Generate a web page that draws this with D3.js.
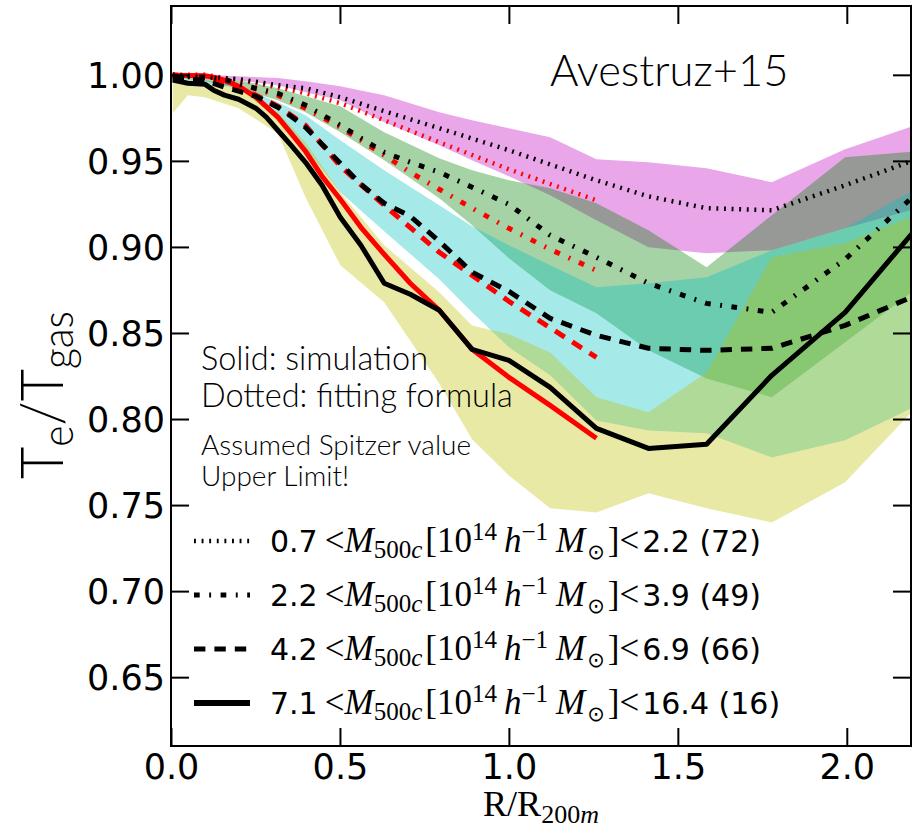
<!DOCTYPE html>
<html><head><meta charset="utf-8">
<script src="https://cdn.jsdelivr.net/npm/d3@7"></script>
<style>body{margin:0;background:#fff}</style>
</head><body>
<svg id="c" width="917" height="832"></svg>
<script>
// ---------------- data ----------------
const bandR = [0.005, 0.05, 0.1, 0.2, 0.316, 0.398, 0.501, 0.631, 0.794, 0.891, 1.0, 1.122, 1.259, 1.413, 1.585, 1.778, 1.995, 2.239];
const band72Hi = [1.000, 1.000, 1.000, 0.9992, 0.9981, 0.9963, 0.9934, 0.9882, 0.9783, 0.9736, 0.9690, 0.9638, 0.9510, 0.9492, 0.9457, 0.9376, 0.9568, 0.9731];
const band72Lo = [0.9992, 0.9992, 0.9986, 0.9969, 0.9940, 0.9899, 0.9853, 0.9725, 0.9591, 0.9504, 0.9411, 0.9300, 0.9155, 0.8998, 0.8963, 0.8981, 0.9108, 0.9242];
const band49Hi = [0.9992, 0.9992, 0.9986, 0.9969, 0.9922, 0.9876, 0.9818, 0.9667, 0.9516, 0.9446, 0.9387, 0.9341, 0.9254, 0.9097, 0.8882, 0.9184, 0.9521, 0.9562];
const band49Lo = [0.9981, 0.9975, 0.9963, 0.9922, 0.9853, 0.9783, 0.9667, 0.9504, 0.9283, 0.9126, 0.8934, 0.8748, 0.8614, 0.8399, 0.8236, 0.8126, 0.8446, 0.8806];
const band66Hi = [0.9981, 0.9975, 0.9969, 0.9934, 0.9841, 0.9765, 0.9620, 0.9446, 0.9242, 0.9120, 0.9010, 0.8893, 0.8765, 0.8789, 0.8824, 0.8981, 0.9108, 0.9376];
const band66Lo = [0.9969, 0.9963, 0.9951, 0.9922, 0.9748, 0.9574, 0.9318, 0.9091, 0.8812, 0.8620, 0.8417, 0.8254, 0.7992, 0.7934, 0.7917, 0.7777, 0.7876, 0.8108];
const band16Hi = [0.9981, 0.9969, 0.9957, 0.9922, 0.9783, 0.9608, 0.9318, 0.9010, 0.8736, 0.8544, 0.8492, 0.8387, 0.8126, 0.8039, 0.8271, 0.8940, 0.9021, 0.9213];
const band16Lo = [0.9777, 0.9882, 0.9870, 0.9806, 0.9661, 0.9289, 0.8893, 0.8678, 0.8207, 0.7882, 0.7672, 0.7481, 0.7457, 0.7568, 0.7481, 0.7399, 0.7632, 0.8138];

const simR72 = [0.005, 0.1, 0.2, 0.316, 0.398, 0.501, 0.631, 0.794, 1.0, 1.259, 1.413, 1.585, 1.778, 1.995, 2.239];
const sim72  = [1.000, 0.9986, 0.9975, 0.9940, 0.9922, 0.9870, 0.9789, 0.9690, 0.9562, 0.9387, 0.9294, 0.9225, 0.9213, 0.9358, 0.9533];
const fitR72 = [0.005, 0.1, 0.2, 0.316, 0.398, 0.501, 0.631, 0.794, 1.0, 1.259];
const fit72  = [1.000, 1.000, 0.9969, 0.9928, 0.9893, 0.9835, 0.9736, 0.9608, 0.9451, 0.9271];

const simR49 = [0.005, 0.1, 0.158, 0.2, 0.251, 0.316, 0.398, 0.501, 0.562, 0.631, 0.708, 0.794, 0.891, 1.0, 1.122, 1.259, 1.413, 1.585, 1.778, 1.995, 2.239];
const sim49  = [0.9992, 0.9986, 0.9975, 0.9946, 0.9922, 0.9893, 0.9824, 0.9707, 0.9632, 0.9550, 0.9492, 0.9434, 0.9347, 0.9248, 0.9068, 0.8940, 0.8789, 0.8672, 0.8620, 0.8928, 0.9370];
const fitR49 = [0.005, 0.1, 0.2, 0.316, 0.398, 0.501, 0.631, 0.708, 0.794, 0.891, 1.0, 1.122, 1.259];
const fit49  = [1.000, 0.9986, 0.9946, 0.9882, 0.9806, 0.9696, 0.9533, 0.9434, 0.9335, 0.9225, 0.9108, 0.8986, 0.8864];

const simR66 = [0.005, 0.1, 0.126, 0.158, 0.2, 0.251, 0.316, 0.355, 0.398, 0.447, 0.501, 0.562, 0.631, 0.708, 0.794, 0.891, 1.0, 1.122, 1.259, 1.413, 1.585, 1.778, 1.995, 2.239];
const sim66  = [0.9981, 0.9969, 0.9951, 0.9928, 0.9905, 0.9876, 0.9812, 0.9760, 0.9696, 0.9597, 0.9486, 0.9364, 0.9254, 0.9178, 0.9033, 0.8853, 0.8742, 0.8585, 0.8486, 0.8411, 0.8399, 0.8411, 0.8544, 0.8748];
const fitR66 = [0.005, 0.1, 0.158, 0.2, 0.251, 0.316, 0.398, 0.501, 0.631, 0.794, 1.0, 1.259];
const fit66  = [0.9992, 0.9981, 0.9951, 0.9922, 0.9882, 0.9818, 0.9707, 0.9469, 0.9242, 0.8969, 0.8684, 0.8358];

const simR16 = [0.005, 0.05, 0.1, 0.126, 0.158, 0.2, 0.251, 0.282, 0.316, 0.355, 0.398, 0.447, 0.501, 0.562, 0.631, 0.708, 0.794, 0.891, 1.0, 1.122, 1.259, 1.413, 1.585, 1.778, 1.995, 2.239];
const sim16  = [0.9969, 0.9951, 0.9946, 0.9911, 0.9882, 0.9858, 0.9806, 0.9754, 0.9678, 0.9591, 0.9492, 0.9358, 0.9172, 0.9010, 0.8789, 0.8725, 0.8632, 0.8405, 0.8341, 0.8184, 0.7946, 0.7829, 0.7853, 0.8254, 0.8620, 0.9184];
const fitR16 = [0.005, 0.1, 0.126, 0.158, 0.2, 0.251, 0.316, 0.355, 0.398, 0.447, 0.501, 0.562, 0.631, 0.708, 0.794, 0.891, 1.0, 1.122, 1.259];
const fit16  = [0.9998, 0.9995, 0.9986, 0.9969, 0.9934, 0.9870, 0.9754, 0.9661, 0.9556, 0.9411, 0.9277, 0.9114, 0.8957, 0.8789, 0.8632, 0.8405, 0.8242, 0.8079, 0.7888];

const legendLo = ["0.7", "2.2", "4.2", "7.1"];
const legendHi = ["2.2", "3.9", "6.9", "16.4"];
const legendN  = ["72", "49", "66", "16"];
const xTicks = [0.0, 0.5, 1.0, 1.5, 2.0];
const yTicks = [0.65, 0.70, 0.75, 0.80, 0.85, 0.90, 0.95, 1.00];

// ---------------- layout ----------------
const L = 171, R = 911, T = 6, B = 746;
const svg = d3.select('#c');
const x = d3.scaleLinear().domain([0, 2.19]).range([L, R]);
const y = d3.scaleLinear().domain([0.61, 1.04]).range([B, T]);

svg.append('defs').append('clipPath').attr('id', 'clip')
  .append('rect').attr('x', L).attr('y', T).attr('width', R - L).attr('height', B - T);
const plot = svg.append('g').attr('clip-path', 'url(#clip)');

const bands = [
  {hi: band72Hi, lo: band72Lo, color: 'rgb(191,0,191)'},
  {hi: band49Hi, lo: band49Lo, color: 'rgb(0,128,0)'},
  {hi: band66Hi, lo: band66Lo, color: 'rgb(0,191,191)'},
  {hi: band16Hi, lo: band16Lo, color: 'rgb(191,191,0)'}
];
const area = d3.area().x(d => x(d[0])).y0(d => y(d[1])).y1(d => y(d[2]));
bands.forEach(b => {
  plot.append('path')
    .attr('d', area(bandR.map((r, i) => [r, b.lo[i], b.hi[i]])))
    .attr('fill', b.color).attr('fill-opacity', 0.35).attr('stroke', 'none');
});

const styles = {
  dot:  {w: 4.5, dash: '1.9,5.7'},
  dd:   {w: 5,   dash: '5.7,9.5,1.9,9.5'},
  dash: {w: 5,   dash: '11.4,9'},
  solid:{w: 5,   dash: null}
};
const line = d3.line().x(d => x(d[0])).y(d => y(d[1]));
function drawLine(rs, vs, color, st) {
  const p = plot.append('path').attr('d', line(rs.map((r, i) => [r, vs[i]])))
    .attr('fill', 'none').attr('stroke', color).attr('stroke-width', st.w)
    .attr('stroke-linejoin', 'round');
  if (st.dash) p.attr('stroke-dasharray', st.dash);
}
// fits (red) then simulations (black)
drawLine(fitR72, fit72, '#ff0000', styles.dot);
drawLine(fitR49, fit49, '#ff0000', styles.dd);
drawLine(fitR66, fit66, '#ff0000', styles.dash);
drawLine(fitR16, fit16, '#ff0000', styles.solid);
drawLine(simR72, sim72, '#000', styles.dot);
drawLine(simR49, sim49, '#000', styles.dd);
drawLine(simR66, sim66, '#000', styles.dash);
drawLine(simR16, sim16, '#000', styles.solid);

// ---------------- axes ----------------
const tickFont = 'DejaVu Sans';
const gx = svg.append('g').attr('transform', `translate(0,${B})`)
  .call(d3.axisBottom(x).tickValues(xTicks).tickFormat(d3.format('.1f')).tickSizeInner(-18).tickSizeOuter(0).tickPadding(8));
const gy = svg.append('g').attr('transform', `translate(${L},0)`)
  .call(d3.axisLeft(y).tickValues(yTicks).tickFormat(d3.format('.2f')).tickSizeInner(-18).tickSizeOuter(0).tickPadding(6));
const gt = svg.append('g').attr('transform', `translate(0,${T})`)
  .call(d3.axisTop(x).tickValues(xTicks).tickFormat('').tickSizeInner(-18).tickSizeOuter(0));
const gr = svg.append('g').attr('transform', `translate(${R},0)`)
  .call(d3.axisRight(y).tickValues(yTicks).tickFormat('').tickSizeInner(-18).tickSizeOuter(0));
[gx, gy, gt, gr].forEach(g => {
  g.select('.domain').remove();
  g.selectAll('.tick line').attr('stroke', '#000').attr('stroke-width', 2);
  g.selectAll('.tick text').attr('font-family', tickFont).attr('font-size', 35).attr('fill', '#000');
});
gy.selectAll('.tick text').attr('dy', '0.36em');
svg.append('rect').attr('x', L).attr('y', T).attr('width', R - L).attr('height', B - T)
  .attr('fill', 'none').attr('stroke', '#000').attr('stroke-width', 2);

// axis labels
const serif = 'Liberation Serif';
const xl = svg.append('text').attr('x', 541).attr('y', 816).attr('text-anchor', 'middle')
  .attr('font-family', serif).attr('font-size', 36);
xl.append('tspan').text('R/R');
xl.append('tspan').attr('font-size', 26).attr('dy', 7).text('200');
xl.append('tspan').attr('font-size', 26).attr('font-style', 'italic').text('m');

const yl = svg.append('text').attr('transform', 'translate(63,395) rotate(-90)')
  .attr('text-anchor', 'middle').attr('font-family', 'Lato').attr('font-weight', 300).attr('font-size', 60)
  .attr('textLength', 168).attr('lengthAdjust', 'spacingAndGlyphs');
yl.append('tspan').text('T');
yl.append('tspan').attr('font-size', 44).attr('dy', 10).text('e');
yl.append('tspan').attr('dy', -10).text('/T');
yl.append('tspan').attr('font-size', 44).attr('dy', 10).text('gas');

// annotations
const ann = 'Lato';
svg.append('text').attr('x', 550).attr('y', 86).attr('font-family', ann).attr('font-weight', 300)
  .attr('font-size', 43.5).text('Avestruz+15');
svg.append('text').attr('x', 201).attr('y', 370).attr('font-family', ann).attr('font-weight', 300)
  .attr('font-size', 32.5).text('Solid: simulation');
svg.append('text').attr('x', 201).attr('y', 407).attr('font-family', ann).attr('font-weight', 300)
  .attr('font-size', 32.5).text('Dotted: fitting formula');
svg.append('text').attr('x', 201).attr('y', 455).attr('font-family', ann).attr('font-weight', 300)
  .attr('font-size', 28).text('Assumed Spitzer value');
svg.append('text').attr('x', 201).attr('y', 486).attr('font-family', ann).attr('font-weight', 300)
  .attr('font-size', 28).text('Upper Limit!');

// legend
const legStyles = [styles.dot, styles.dd, styles.dash, {w: 6, dash: null}];
const legY = [541, 595, 649, 703];
legY.forEach((yy, i) => {
  const st = legStyles[i];
  const ln = svg.append('line').attr('x1', 194).attr('x2', 250).attr('y1', yy).attr('y2', yy)
    .attr('stroke', '#000').attr('stroke-width', st.w);
  if (st.dash) ln.attr('stroke-dasharray', st.dash);
  const t = svg.append('text').attr('x', 270).attr('y', yy + 11).attr('font-family', serif).attr('font-size', 35);
  t.append('tspan').attr('font-family', tickFont).attr('font-size', 30).text(legendLo[i]);
  t.append('tspan').attr('dx', 7).text('<');
  t.append('tspan').attr('font-style', 'italic').text('M');
  t.append('tspan').attr('font-size', 25).attr('dy', 6).text('500');
  t.append('tspan').attr('font-size', 25).attr('font-style', 'italic').text('c');
  t.append('tspan').attr('dy', -6).attr('dx', 3).text('[10');
  t.append('tspan').attr('font-size', 25).attr('dy', -12).text('14');
  t.append('tspan').attr('dy', 12).attr('dx', 7).attr('font-style', 'italic').text('h');
  t.append('tspan').attr('font-size', 25).attr('dy', -12).text('\u22121');
  t.append('tspan').attr('dy', 12).attr('dx', 8).attr('font-style', 'italic').text('M');
  t.append('tspan').attr('font-size', 21).attr('dy', 7).attr('dx', 2).attr('font-family', 'DejaVu Sans').text('\u2299');
  t.append('tspan').attr('dy', -7).attr('dx', 3).text(']<');
  t.append('tspan').attr('font-family', tickFont).attr('font-size', 30).attr('dx', 3).text(legendHi[i] + ' (' + legendN[i] + ')');
});
</script>
</body></html>
